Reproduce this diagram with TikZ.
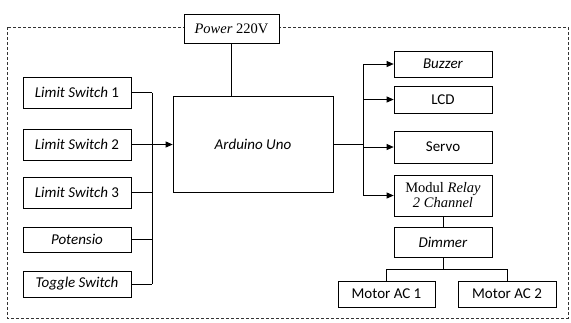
\documentclass[tikz,border=0pt]{standalone}
\usepackage{fontspec}
\setmainfont{Carlito}
\newfontfamily\timesf{Liberation Serif}
\usetikzlibrary{arrows.meta}
\begin{document}
\begin{tikzpicture}[x=1pt,y=-1pt,
  box/.style={draw, line width=0.7pt, fill=white, inner sep=0pt, font=\fontsize{15}{16}\selectfont, align=center},
  conn/.style={line width=0.7pt},
  arr/.style={conn, -{Triangle[length=7pt,width=6pt]}},
  frame/.style={line width=0.6pt, dash pattern=on 3pt off 2pt, draw=black!80}]
\useasboundingbox (0,0) rectangle (571,322);
\draw[frame] (7,27) rectangle (568,318);
% nodes
\node[box, minimum width=95, minimum height=29] (pw) at (231.5,28.5) {{\timesf\fontsize{14.5}{16}\selectfont\textit{Power} 220V}};
\node[box, minimum width=108, minimum height=31] (ls1) at (77,92.5) {\textit{Limit Switch} 1};
\node[box, minimum width=108, minimum height=31] (ls2) at (77,144.5) {\textit{Limit Switch} 2};
\node[box, minimum width=108, minimum height=31] (ls3) at (77,192.5) {\textit{Limit Switch} 3};
\node[box, minimum width=108, minimum height=25] (pot) at (77,239.5) {\textit{Potensio}};
\node[box, minimum width=108, minimum height=26] (tog) at (77,284) {\textit{Toggle Switch}};
\node[box, minimum width=160, minimum height=96] (ard) at (253,144.5) {\textit{Arduino Uno}};
\node[box, minimum width=98, minimum height=26] (buz) at (443,64) {\textit{Buzzer}};
\node[box, minimum width=98, minimum height=27] (lcd) at (443,99.5) {LCD};
\node[box, minimum width=98, minimum height=32] (srv) at (443,147) {Servo};
\node[box, minimum width=98, minimum height=41] (rel) at (443,195.5) {{\timesf\fontsize{14.5}{15}\selectfont Modul \textit{Relay}}\\[-1pt]{\timesf\fontsize{14.5}{15}\selectfont\textit{2 Channel}}};
\node[box, minimum width=98, minimum height=30] (dim) at (443,242) {\textit{Dimmer}};
\node[box, minimum width=97, minimum height=26] (m1) at (386.5,294) {Motor AC 1};
\node[box, minimum width=98, minimum height=26] (m2) at (507,294) {Motor AC 2};
% coordinates
\coordinate (bl) at (152,144.5);
\coordinate (br) at (363,144.5);
\coordinate (bd) at (443,269);
% left bus
\foreach \n in {ls1,ls2,ls3,pot,tog} \draw[conn] (\n.east) -- (\n.east -| bl);
\draw[conn] (ls1.east -| bl) -- (tog.east -| bl);
\draw[arr] (bl) -- (ard.west);
% power
\draw[conn] (pw.south) -- (pw.south |- ard.north);
% right bus
\draw[conn] (ard.east) -- (br);
\draw[conn] (buz.west -| br) -- (rel.west -| br);
\foreach \n in {buz,lcd,srv,rel} \draw[arr] (\n.west -| br) -- (\n.west);
% dimmer chain
\draw[conn] (rel.south) -- (dim.north);
\draw[conn] (dim.south) -- (bd);
\draw[conn] (m1.north |- bd) -- (m2.north |- bd);
\draw[conn] (m1.north |- bd) -- (m1.north);
\draw[conn] (m2.north |- bd) -- (m2.north);
\end{tikzpicture}
\end{document}
